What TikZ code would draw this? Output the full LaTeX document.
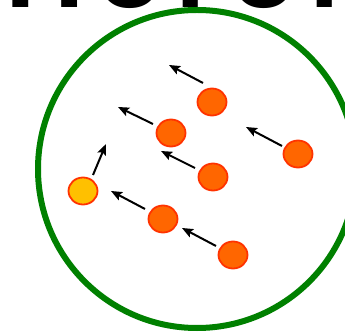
\documentclass[tikz,border=0pt]{standalone}
\usepackage{fontspec}
\setmainfont{Liberation Sans}
\usetikzlibrary{shapes.geometric,arrows.meta}
\definecolor{ballfill}{HTML}{FF6600}
\definecolor{balledge}{HTML}{FF3300}
\definecolor{yellowfill}{HTML}{FFC000}
\definecolor{ringgreen}{HTML}{008000}
\tikzset{
  ball/.style={ellipse, draw=balledge, fill=ballfill, line width=1.8pt,
    minimum width=29pt, minimum height=27pt, inner sep=0pt},
  yball/.style={ball, fill=yellowfill},
  motion/.style={line width=2pt, -{Stealth[length=11pt,width=9pt,inset=2pt]}},
}
\begin{document}
\begin{tikzpicture}[x=1pt,y=-1pt]
\useasboundingbox (0,0) rectangle (345,336);
\clip (0,0) rectangle (345,336);
\node[anchor=base west, inner sep=0pt, font=\fontsize{110pt}{110pt}\selectfont\bfseries] (title) at (5,7.5)
  {H\kern12pt o\kern12pt r\kern12pt o\kern12pt r};
\coordinate (c) at (197,169);
\draw[ringgreen, line width=6pt] (c) circle[radius=159pt];
% balls
\node[ball] (a) at (212,102) {};
\node[ball] (b) at (171,133) {};
\node[ball] (cc) at (213,177) {};
\node[yball] (y) at (83,191) {};
\node[ball] (d) at (163,219) {};
\node[ball] (e) at (233,255) {};
\node[ball] (f) at (298,154) {};
% arrow coordinates
\coordinate (a1) at (203,83);  \coordinate (a2) at (169,65);
\coordinate (b1) at (153,124); \coordinate (b2) at (118,107);
\coordinate (y1) at (93,175);  \coordinate (y2) at (106,144);
\coordinate (c1) at (195,168); \coordinate (c2) at (161,151);
\coordinate (f1) at (282,146); \coordinate (f2) at (246,127);
\coordinate (d1) at (145,209); \coordinate (d2) at (111,191);
\coordinate (e1) at (216,246); \coordinate (e2) at (182,228);
\draw[motion] (a1) -- (a2);
\draw[motion] (b1) -- (b2);
\draw[motion] (y1) -- (y2);
\draw[motion] (c1) -- (c2);
\draw[motion] (f1) -- (f2);
\draw[motion] (d1) -- (d2);
\draw[motion] (e1) -- (e2);
\end{tikzpicture}
\end{document}
